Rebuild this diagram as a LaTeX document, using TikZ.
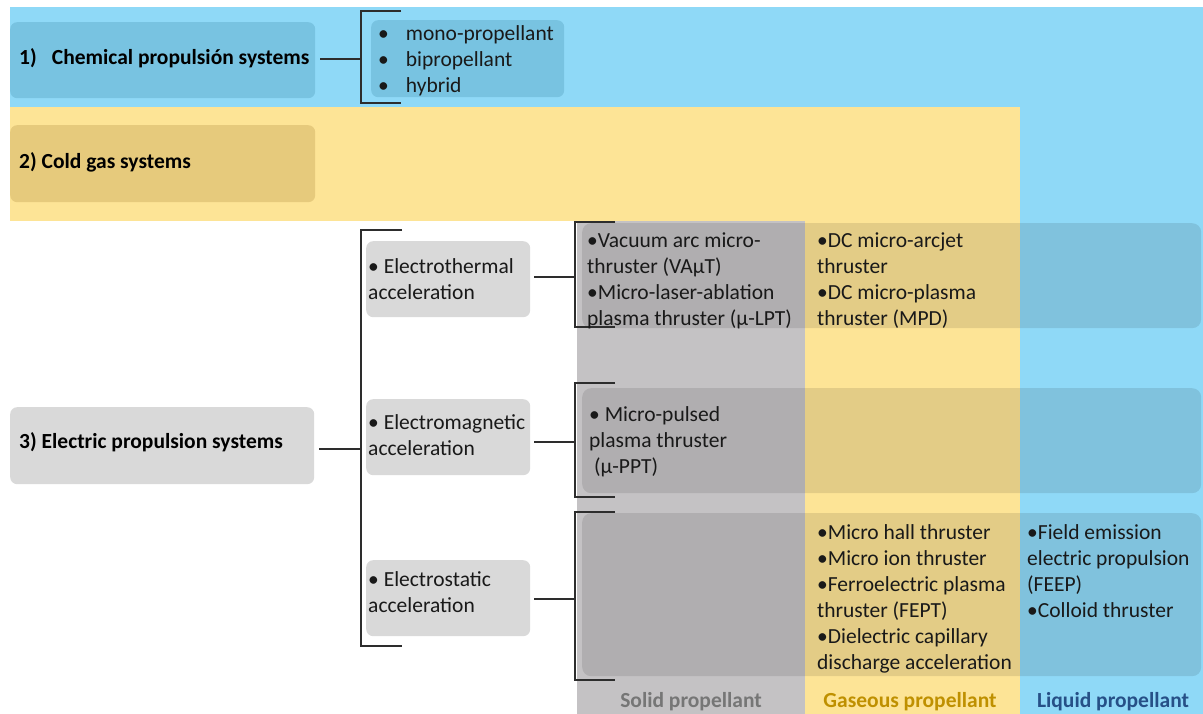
\documentclass[tikz,border=0pt]{standalone}
\usepackage{fontspec}
\setmainfont{Carlito}
\definecolor{bandblue}{RGB}{143,217,247}
\definecolor{bandyellow}{RGB}{253,228,150}
\definecolor{bandgray}{RGB}{196,194,196}
\definecolor{chemdark}{RGB}{120,195,225}
\definecolor{colddark}{RGB}{230,202,124}
\definecolor{boxgray}{RGB}{217,217,217}
\definecolor{linecol}{RGB}{45,45,45}
\definecolor{solidcol}{RGB}{118,118,118}
\definecolor{gascol}{RGB}{191,144,0}
\definecolor{liqcol}{RGB}{38,80,135}
\newcommand{\ctext}[1]{\begin{tabular}[t]{@{}l@{}}#1\end{tabular}}
\tikzset{
  every node/.style={font=\fontsize{21.5}{26}\selectfont},
  box/.style={anchor=north west, inner sep=0pt, rounded corners=7pt},
  chembox/.style={box, fill=chemdark},
  coldbox/.style={box, fill=colddark},
  graybox/.style={box, fill=boxgray},
  rowbox/.style={box, fill=black, fill opacity=0.1, rounded corners=9pt},
  conn/.style={draw=linecol, line width=1.3pt},
  txt/.style={anchor=base west, inner sep=0pt, text=black!90},
  ttl/.style={txt, text=black, font=\fontsize{21.5}{26}\selectfont\bfseries},
  lbl/.style={anchor=base, inner sep=0pt, font=\fontsize{21.5}{26}\selectfont\bfseries}
}
\begin{document}
\begin{tikzpicture}[x=1pt,y=-1pt]
\useasboundingbox (0,0) rectangle (1203,714);
% background regions
\fill[bandblue] (9.5,7) rectangle (1203,107);
\fill[bandyellow] (9.5,107) rectangle (1020,221);
\fill[bandblue] (1020,107) rectangle (1203,714);
\fill[bandyellow] (805,221) rectangle (1020,714);
\fill[bandgray] (577,221) rectangle (805,714);

% 1) chemical
\node[chembox, minimum width=305, minimum height=76] (chem) at (10,22) {};
\node[chembox, minimum width=193, minimum height=77] (chemlist) at (371,20) {};
\node[ttl] (chemt) at (19,65) {\makebox[32.7pt][l]{1)}Chemical propulsión systems};
\node[txt] (chemlt) at (378,40.5) {\ctext{\makebox[27.7pt][l]{•}mono-propellant\\\makebox[27.7pt][l]{•}bipropellant\\\makebox[27.7pt][l]{•}hybrid}};
\coordinate (cbt) at (401,11);
\coordinate (cbm) at (361,59);
\coordinate (cbb) at (401,103);
\draw[conn] (cbt) -| (cbm) |- (cbb);
\draw[conn, shorten <=5pt] (chem.east |- cbm) -- (cbm);

% 2) cold gas
\node[coldbox, minimum width=305, minimum height=77] (cold) at (10,125) {};
\node[ttl] (coldt) at (19,169) {2) Cold gas systems};

% 3) electric
\node[graybox, minimum width=304, minimum height=77] (elec) at (10,407) {};
\node[ttl] (elect) at (19,448) {3) Electric propulsion systems};
\node[graybox, minimum width=164, minimum height=76] (eth) at (366,241) {};
\node[graybox, minimum width=164, minimum height=76] (emg) at (366,399) {};
\node[graybox, minimum width=164, minimum height=76] (est) at (366,560) {};
\node[txt] (etht) at (368,274) {\ctext{• Electrothermal\\acceleration}};
\node[txt] (emgt) at (368,429) {\ctext{• Electromagnetic\\acceleration}};
\node[txt] (estt) at (368,586) {\ctext{• Electrostatic\\acceleration}};

\coordinate (ebt) at (402,230);
\coordinate (ebm) at (361,449);
\coordinate (ebb) at (402,646);
\draw[conn] (ebt) -| (ebm) |- (ebb);
\draw[conn, shorten <=5pt] (elec.east |- ebm) -- (ebm);

% row boxes
\node[rowbox, minimum width=619, minimum height=105] (r1) at (582,223) {};
\node[rowbox, minimum width=619, minimum height=105] (r2) at (582,388) {};
\node[rowbox, minimum width=619, minimum height=163] (r3) at (582,513) {};

% right brackets
\coordinate (b1t) at (615,222);
\coordinate (b1m) at (575,277);
\coordinate (b1b) at (615,327);
\coordinate (b2t) at (615,383);
\coordinate (b2m) at (575,442);
\coordinate (b2b) at (615,497);
\coordinate (b3t) at (615,512);
\coordinate (b3m) at (575,599);
\coordinate (b3b) at (615,680);
\draw[conn] (b1t) -| (b1m) |- (b1b);
\draw[conn] (b2t) -| (b2m) |- (b2b);
\draw[conn] (b3t) -| (b3m) |- (b3b);
\draw[conn, shorten <=4pt] (eth.east |- b1m) -- (b1m);
\draw[conn, shorten <=4pt] (emg.east |- b2m) -- (b2m);
\draw[conn, shorten <=4pt] (est.east |- b3m) -- (b3m);

% cell texts
\node[txt] (c11) at (587,247.5) {\ctext{•Vacuum arc micro-\\thruster (VAµT)\\•Micro-laser-ablation\\plasma thruster (µ-LPT)}};
\node[txt] (c12) at (817,247.5) {\ctext{•DC micro-arcjet\\thruster\\•DC micro-plasma\\thruster (MPD)}};
\node[txt] (c21) at (589,421) {\ctext{• Micro-pulsed\\plasma thruster\\~(µ-PPT)}};
\node[txt] (c32) at (817,539) {\ctext{•Micro hall thruster\\•Micro ion thruster\\•Ferroelectric plasma\\thruster (FEPT)\\•Dielectric capillary\\discharge acceleration}};
\node[txt] (c33) at (1027,539) {\ctext{•Field emission\\electric propulsion\\(FEEP)\\•Colloid thruster}};

% column labels
\node[lbl, text=solidcol] (lsolid) at (691,707) {Solid propellant};
\node[lbl, text=gascol] (lgas) at (910,707) {Gaseous propellant};
\node[lbl, text=liqcol] (lliq) at (1113,707) {Liquid propellant};
\end{tikzpicture}
\end{document}
